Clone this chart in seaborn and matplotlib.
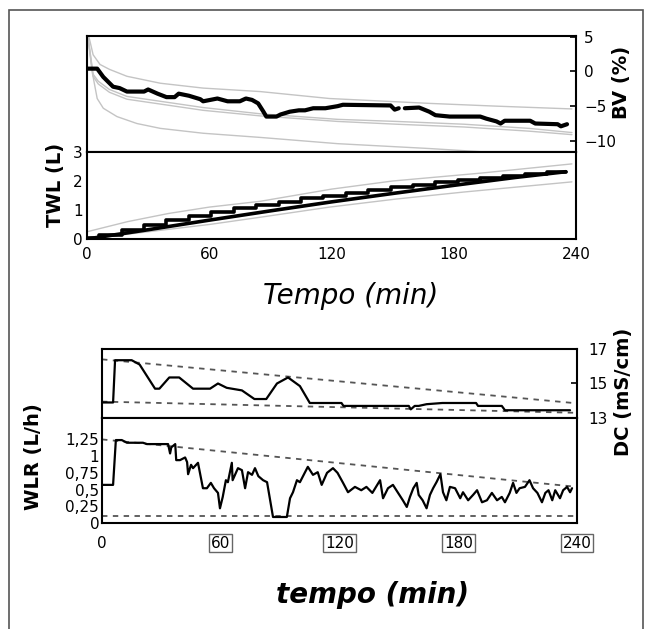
import numpy as np
import pandas as pd
import matplotlib
matplotlib.use('Agg')
import matplotlib.pyplot as plt
from matplotlib.patches import Rectangle
import seaborn as sns

# ---- BV (%) ----
bv_t = [0, 5, 8, 12.8, 16, 19.6, 28, 30, 34.6, 39, 43, 45, 50, 55.6, 57, 64, 69, 75, 78, 81, 84,
        86.6, 88, 93, 95, 99.5, 104, 107, 111, 117, 123, 125.6, 149, 151, 153,
        156, 163, 168, 171, 178, 193, 196, 201, 203, 205, 217.5, 220, 231, 232.6, 235.6]
bv_v = [0.4, 0.4, -0.8, -2.2, -2.4, -2.9, -2.9, -2.6, -3.2, -3.7, -3.7, -3.2, -3.5, -4.0, -4.3, -3.9, -4.3, -4.3, -3.9, -4.1, -4.6,
        -5.8, -6.5, -6.5, -6.2, -5.8, -5.6, -5.6, -5.3, -5.3, -5.0, -4.8, -4.9, -5.5, -5.3,
        -5.3, -5.2, -5.8, -6.3, -6.5, -6.5, -6.8, -7.2, -7.5, -7.1, -7.1, -7.5, -7.6, -7.9, -7.6]
bv_seg = [0] * 35 + [1] * 15

bv_up_t = [0, 1.5, 3, 6.4, 11, 19.6, 36, 57, 85, 119, 168, 201, 238]
bv_up_v = [6.0, 4.3, 2.4, 1.0, 0.3, -0.7, -1.7, -2.4, -2.9, -3.9, -4.6, -5.0, -5.4]
bv_mid_t = [0, 3, 5.5, 11, 19.6, 36, 57, 85, 123, 152, 185, 217, 238]
bv_mid_v = [6.0, -0.4, -1.4, -2.6, -3.6, -4.3, -5.2, -6.1, -6.9, -7.2, -7.6, -8.2, -8.8]
bv_mid2_v = [6.0, -0.7, -1.8, -3.0, -4.0, -4.7, -5.6, -6.4, -7.2, -7.6, -8.0, -8.6, -9.1]
bv_lo_t = [0, 2.5, 5, 8, 14.7, 24.5, 36, 57, 85, 123, 168, 201]
bv_lo_v = [6.0, 0.0, -3.9, -5.3, -6.5, -7.5, -8.2, -8.9, -9.5, -10.4, -11.1, -11.7]

# ---- TWL (L) ----
twl_step_t = [0, 6, 17, 28, 39, 50, 61, 72, 83, 94, 105, 116, 127, 138, 149, 160, 171, 182, 193, 204, 215, 226, 235]
twl_step_v = [0.05, 0.15, 0.32, 0.5, 0.66, 0.8, 0.94, 1.06, 1.18, 1.29, 1.4, 1.5, 1.6, 1.69, 1.78, 1.87, 1.95, 2.03, 2.1, 2.17, 2.24, 2.31, 2.31]
twl_lin_t = [0, 30, 60, 90, 120, 150, 180, 210, 235]
twl_lin_v = [0.0, 0.32, 0.65, 0.97, 1.28, 1.57, 1.85, 2.12, 2.32]
twl_gu_t = [0, 20, 40, 60, 85, 120, 150, 193, 238]
twl_gu_v = [0.25, 0.6, 0.88, 1.1, 1.3, 1.72, 2.0, 2.27, 2.59]
twl_gl_t = [0, 36, 60, 85, 119, 152, 185, 238]
twl_gl_v = [0.0, 0.3, 0.5, 0.75, 1.1, 1.38, 1.62, 1.97]

# ---- DC (mS/cm) ----
dc_t = [0, 5.6, 6.6, 15, 19, 26.8, 29, 34, 39, 46, 54.6, 58.6, 63, 70.7, 77, 83, 88.4, 94, 100, 105, 121,
        122, 155, 156, 158, 160, 164, 172, 189, 190, 202, 203.6, 236.5]
dc_v = [13.9, 13.9, 16.35, 16.35, 16.1, 14.7, 14.7, 15.35, 15.35, 14.7, 14.7, 15.0, 14.75, 14.6, 14.1, 14.1, 15.0, 15.35, 14.85, 13.87, 13.87,
        13.7, 13.7, 13.5, 13.7, 13.7, 13.8, 13.87, 13.87, 13.7, 13.7, 13.45, 13.45]
dc_lim_t = [0, 240]
dc_hi_v = [16.4, 13.85]
dc_lo_v = [13.95, 13.3]

# ---- WLR (L/h) ----
wlr_t = [0, 5.6, 7, 10, 12.6, 20.7, 22.7, 33.4, 34.4, 35, 37, 37.5, 39.4, 42, 43, 43.5, 45, 46, 48.5, 51, 53,
         55, 56.6, 58.6, 59.6, 61, 62.6, 63.6, 65.6, 66, 68.7, 70.7, 72.3, 73.8, 75.8, 77.3, 79, 81.4, 83.4,
         86.4, 93.4, 95, 96.5, 98.5, 100, 102.6, 104, 106.6, 109, 111, 113.7, 116.7, 119, 121.8, 124.3,
         127.8, 131, 133.6, 136.6, 140.5, 142, 144.5, 147, 149.6, 152, 154, 155.6, 157.3, 159, 160, 162,
         164, 165.7, 167.3, 169, 171, 172.3, 174, 175.8, 178.4, 181, 182.4, 185, 187.5, 189.5, 192, 194.5,
         197, 199.6, 202, 203.6, 206, 207.7, 209.4, 211, 213.7, 216, 217.8, 220, 222.3, 224, 225.6, 227.5,
         229, 231.4, 233, 235, 236.5, 237.5]
wlr_v = [0.57, 0.57, 1.24, 1.24, 1.2, 1.2, 1.18, 1.18, 1.04, 1.13, 1.18, 0.94, 0.94, 0.98, 0.91, 0.73, 0.87, 0.82, 0.9, 0.52, 0.52,
         0.6, 0.52, 0.45, 0.22, 0.39, 0.64, 0.61, 0.9, 0.64, 0.82, 0.79, 0.52, 0.76, 0.72, 0.82, 0.7, 0.64, 0.61,
         0.09, 0.09, 0.37, 0.46, 0.64, 0.61, 0.76, 0.84, 0.72, 0.76, 0.57, 0.75, 0.82, 0.75, 0.6, 0.46,
         0.54, 0.49, 0.54, 0.45, 0.64, 0.37, 0.52, 0.57, 0.45, 0.34, 0.24, 0.39, 0.52, 0.6, 0.42, 0.34,
         0.22, 0.42, 0.52, 0.61, 0.73, 0.46, 0.34, 0.54, 0.52, 0.37, 0.46, 0.34, 0.42, 0.49, 0.31, 0.34,
         0.45, 0.34, 0.39, 0.31, 0.45, 0.6, 0.45, 0.52, 0.54, 0.64, 0.52, 0.45, 0.31, 0.45, 0.49, 0.34,
         0.49, 0.37, 0.49, 0.54, 0.46, 0.52]
wlr_hi_v = [1.25, 0.54]
wlr_lo_v = [0.1, 0.1]

x_ticks = [0, 60, 120, 180, 240]

sns.set_style('white')
plt.rcParams['font.family'] = ['DejaVu Sans']
plt.rcParams['text.color'] = 'black'
plt.rcParams['axes.linewidth'] = 1.5
plt.rcParams['axes.edgecolor'] = 'black'

W, H = 653, 629
fig = plt.figure(figsize=(W / 100, H / 100), dpi=100)


def box(l, t, r, b):
    return [l / W, 1 - b / H, (r - l) / W, (b - t) / H]


ax_bv = fig.add_axes(box(87, 36, 576, 152))
ax_twl = fig.add_axes(box(87, 152, 576, 239))
ax_dc = fig.add_axes(box(102, 349, 577, 418))
ax_wlr = fig.add_axes(box(102, 418, 577, 523))

gray = '#c4c4c4'
bv_df = pd.DataFrame({'t': bv_t, 'v': bv_v, 'seg': bv_seg})
for tt, vv in [(bv_up_t, bv_up_v), (bv_mid_t, bv_mid_v), (bv_mid_t, bv_mid2_v), (bv_lo_t, bv_lo_v)]:
    sns.lineplot(x=tt, y=vv, ax=ax_bv, color=gray, lw=1)
sns.lineplot(data=bv_df, x='t', y='v', units='seg', estimator=None, ax=ax_bv, color='black', lw=3)

sns.lineplot(x=twl_gu_t, y=twl_gu_v, ax=ax_twl, color=gray, lw=1)
sns.lineplot(x=twl_gl_t, y=twl_gl_v, ax=ax_twl, color=gray, lw=1)
sns.lineplot(x=twl_lin_t, y=twl_lin_v, ax=ax_twl, color='black', lw=2.6)
sns.lineplot(x=twl_step_t, y=twl_step_v, ax=ax_twl, color='black', lw=2.6, drawstyle='steps-post')

sns.lineplot(x=dc_lim_t, y=dc_hi_v, ax=ax_dc, color='#555555', lw=1.3, linestyle=(0, (3, 3)))
sns.lineplot(x=dc_lim_t, y=dc_lo_v, ax=ax_dc, color='#555555', lw=1.3, linestyle=(0, (3, 3)))
sns.lineplot(x=dc_t, y=dc_v, ax=ax_dc, color='black', lw=1.6, estimator=None, sort=False)

sns.lineplot(x=dc_lim_t, y=wlr_hi_v, ax=ax_wlr, color='#555555', lw=1.3, linestyle=(0, (3, 3)))
sns.lineplot(x=dc_lim_t, y=wlr_lo_v, ax=ax_wlr, color='#555555', lw=1.3, linestyle=(0, (3, 3)))
sns.lineplot(x=wlr_t, y=wlr_v, ax=ax_wlr, color='black', lw=1.6, estimator=None, sort=False)

for ax in [ax_bv, ax_twl, ax_dc, ax_wlr]:
    ax.set_xlim(0, 240)
    ax.set_xticks(x_ticks)
    ax.set_xlabel('')
    ax.set_ylabel('')
    ax.tick_params(direction='in', length=4, width=1.2, labelsize=11, colors='black')
    for s in ax.spines.values():
        s.set_visible(True)
        s.set_color('black')
        s.set_linewidth(1.5)

ax_bv.set_ylim(-11.6, 5.1)
ax_bv.set_yticks([5, 0, -5, -10])
ax_bv.set_yticklabels(['5', '0', '\u22125', '\u221210'])
ax_bv.yaxis.tick_right()
ax_bv.tick_params(axis='y', pad=6)
ax_bv.set_xticklabels([])

ax_twl.set_ylim(0, 3)
ax_twl.set_yticks([0, 1, 2, 3])
ax_twl.set_xticklabels([str(x) for x in x_ticks])
ax_twl.tick_params(axis='x', pad=6)
ax_twl.tick_params(axis='y', pad=3)

ax_dc.set_ylim(13, 17)
ax_dc.set_yticks([13, 15, 17])
ax_dc.yaxis.tick_right()
ax_dc.tick_params(axis='y', pad=8)
ax_dc.set_xticklabels([])

ax_wlr.set_ylim(0, 1.57)
ax_wlr.set_yticks([0, 0.25, 0.5, 0.75, 1, 1.25])
ax_wlr.set_yticklabels(['0', '0,25', '0,5', '0,75', '1', '1,25'])
ax_wlr.tick_params(axis='y', pad=2)
ax_wlr.set_xticklabels([str(x) for x in x_ticks])
ax_wlr.tick_params(axis='x', pad=9)
for i, lab in enumerate(ax_wlr.get_xticklabels()):
    if i > 0:
        lab.set_bbox(dict(boxstyle='square,pad=0.12', fc='white', ec='#666666', lw=1))

fig.text(55 / W, 1 - 185 / H, 'TWL (L)', rotation=90, weight='bold', size=14, ha='center', va='center')
fig.text(622 / W, 1 - 82 / H, 'BV (%)', rotation=90, weight='bold', size=14, ha='center', va='center')
fig.text(351 / W, 1 - 296 / H, 'Tempo (min)', style='italic', size=20, ha='center', va='center')
fig.text(623 / W, 1 - 392 / H, 'DC (mS/cm)', rotation=90, weight='bold', size=14, ha='center', va='center')
fig.text(33 / W, 1 - 457 / H, 'WLR (L/h)', rotation=90, weight='bold', size=14, ha='center', va='center')
fig.text(372 / W, 1 - 595 / H, 'tempo (min)', style='italic', weight='bold', size=20, ha='center', va='center')

fig.add_artist(Rectangle((9 / W, -0.02), (643 - 9) / W, (1 - 10 / H) + 0.02, transform=fig.transFigure,
                         fill=False, ec='#555555', lw=1.2))

fig.savefig('out.png', dpi=100)
